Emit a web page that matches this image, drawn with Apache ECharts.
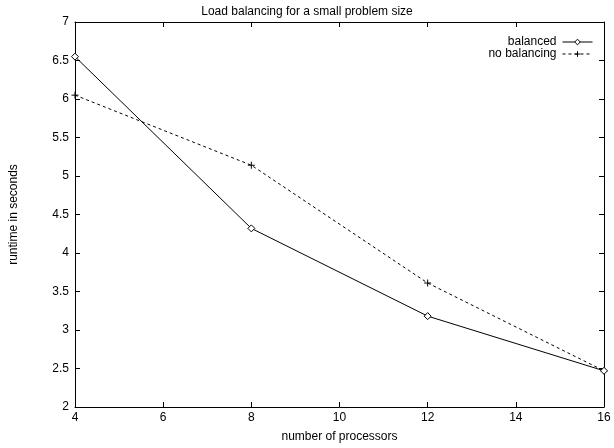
<!DOCTYPE html>
<html>
<head>
<meta charset="utf-8">
<script src="https://cdn.jsdelivr.net/npm/echarts@6/dist/echarts.min.js"></script>
<style>html,body{margin:0;padding:0;background:#fff}#c{width:614px;height:448px}</style>
</head>
<body>
<div id="c"></div>
<script>
var processors = [4, 8, 12, 16];
var balanced = [6.55, 4.32, 3.18, 2.47];
var noBalancing = [6.05, 5.14, 3.61, 2.47];
var titleText = 'Load balancing for a small problem size';
var xName = 'number of processors';
var yName = 'runtime in seconds';

var font = 'Liberation Sans, Arial, Helvetica, sans-serif';
var chart = echarts.init(document.getElementById('c'), null, {renderer: 'canvas'});
var tickStyle = {show: true, inside: true, length: 5, lineStyle: {color: '#000', width: 1}};
var lineAx = {show: true, onZero: false, lineStyle: {color: '#000', width: 1}};
var plusPath = 'path://M0,5 L10,5 M5,0 L5,10';
chart.setOption({
  animation: false,
  backgroundColor: '#fff',
  title: {text: titleText, left: 'center', top: 1, textStyle: {fontFamily: font, fontSize: 12, fontWeight: 'normal', color: '#000'}},
  legend: {
    orient: 'vertical', right: 16, top: 31, align: 'right', itemGap: 0, itemWidth: 30, itemHeight: 7,
    padding: 5,
    textStyle: {fontFamily: font, fontSize: 12, lineHeight: 11, color: '#000', padding: [0, 1, 0, 0]},
    lineStyle: {width: 1},
    itemStyle: {borderWidth: 1},
    data: ['balanced', 'no balancing']
  },
  grid: {left: 74, right: 10, top: 22, bottom: 37, containLabel: false},
  xAxis: [{
    type: 'value', min: 4, max: 16, interval: 2, position: 'bottom',
    name: xName, nameLocation: 'middle', nameGap: 24,
    nameTextStyle: {fontFamily: font, fontSize: 12, color: '#000'},
    axisLine: lineAx, axisTick: tickStyle, splitLine: {show: false},
    axisLabel: {fontFamily: font, fontSize: 12, color: '#000', margin: 5}
  }, {
    type: 'value', min: 4, max: 16, interval: 2, position: 'top',
    axisLine: lineAx, axisTick: tickStyle, splitLine: {show: false}, axisLabel: {show: false}
  }],
  yAxis: [{
    type: 'value', min: 2, max: 7, interval: 0.5, position: 'left',
    name: yName, nameLocation: 'middle', nameGap: 55,
    nameTextStyle: {fontFamily: font, fontSize: 12, color: '#000'},
    axisLine: lineAx, axisTick: tickStyle, splitLine: {show: false},
    axisLabel: {fontFamily: font, fontSize: 12, color: '#000', margin: 6}
  }, {
    type: 'value', min: 2, max: 7, interval: 0.5, position: 'right',
    axisLine: lineAx, axisTick: tickStyle, splitLine: {show: false}, axisLabel: {show: false}
  }],
  series: [{
    name: 'balanced', type: 'line',
    data: processors.map(function (p, i) { return [p, balanced[i]]; }),
    symbol: 'diamond', symbolSize: 7, showAllSymbol: true,
    lineStyle: {color: '#000', width: 1, type: 'solid'},
    itemStyle: {color: '#fff', borderColor: '#000', borderWidth: 1},
    z: 3
  }, {
    name: 'no balancing', type: 'line',
    data: processors.map(function (p, i) { return [p, noBalancing[i]]; }),
    symbol: plusPath, symbolSize: 7, showAllSymbol: true,
    lineStyle: {color: '#000', width: 1, type: [3, 3]},
    itemStyle: {color: '#000', borderColor: '#000', borderWidth: 1},
    z: 2
  }]
});
</script>
</body>
</html>
